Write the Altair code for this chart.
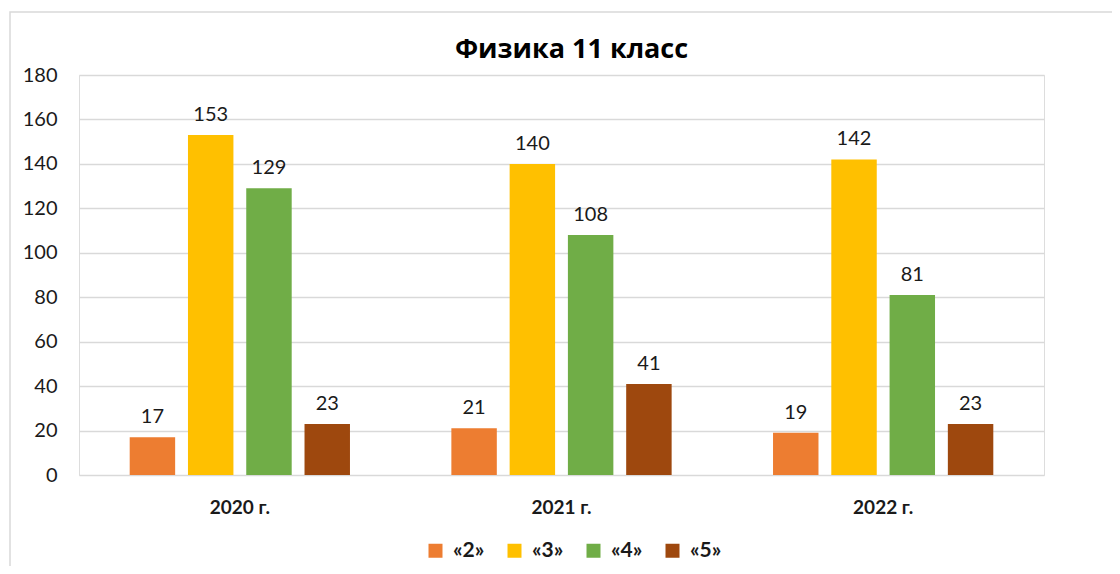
import altair as alt
import pandas as pd

years = ["2020 г.", "2021 г.", "2022 г."]
grades = ["«2»", "«3»", "«4»", "«5»"]
g2 = [17, 21, 19]
g3 = [153, 140, 142]
g4 = [129, 108, 81]
g5 = [23, 41, 23]
colors = ["#ED7D31", "#FFC000", "#70AD47", "#9E480E"]

rows = []
for gi, (g, vals) in enumerate(zip(grades, [g2, g3, g4, g5])):
    for y, v in zip(years, vals):
        rows.append({"year": y, "grade": g, "value": v})
df = pd.DataFrame(rows)

FONT = "Lato"

x = alt.X("year:N", sort=years, title=None,
          scale=alt.Scale(paddingInner=0, paddingOuter=0),
          axis=alt.Axis(labelAngle=0, labelFontWeight="bold", labelFontSize=19,
                        labelFont=FONT, labelColor="#1a1a1a", ticks=False, tickSize=0,
                        domain=False, labelPadding=38, labelBaseline="alphabetic"))
xo = alt.XOffset("grade:N", sort=grades,
                 scale=alt.Scale(paddingInner=0.22, paddingOuter=0.87))
y = alt.Y("value:Q", title=None,
          scale=alt.Scale(domain=[0, 180], nice=False),
          axis=alt.Axis(values=list(range(0, 181, 20)), grid=True, gridColor="#D9D9D9",
                        gridWidth=1.3, domain=False, ticks=False, tickSize=0,
                        labelPadding=22, labelFontSize=20, labelFont=FONT,
                        labelColor="#1a1a1a"))
color = alt.Color("grade:N", sort=grades,
                  scale=alt.Scale(domain=grades, range=colors),
                  legend=alt.Legend(title=None, orient="none", direction="horizontal",
                                    legendX=346, legendY=465, symbolType="square",
                                    symbolSize=196, symbolStrokeWidth=0, labelFontSize=21,
                                    labelFontWeight="bold", labelFont=FONT,
                                    labelColor="#1a1a1a", labelOffset=7, columnPadding=19,
                                    padding=0))

base = alt.Chart(df)
bars = base.mark_bar().encode(x=x, xOffset=xo, y=y, color=color)
labels = base.mark_text(dy=-14, baseline="alphabetic", align="center", fontSize=20,
                        font=FONT, color="#1a1a1a").encode(
    x=x, xOffset=xo, y=y, text=alt.Text("value:Q"))

border = alt.Chart(pd.DataFrame({"a": [0]})).mark_rect(
    fill=None, stroke="#D9D9D9", strokeWidth=1.5).encode(
    x=alt.value(-69), x2=alt.value(1300), y=alt.value(-63), y2=alt.value(700))

chart = alt.layer(border, bars, labels).properties(
    width=965, height=400,
    title=alt.TitleParams("Физика 11 класс", fontSize=27, font="Open Sans", fontWeight="bold",
                          color="#000000", anchor="middle", dx=10, baseline="alphabetic",
                          offset=0, dy=74),
    autosize=alt.AutoSizeParams(type="none"),
    padding={"left": 71, "top": 67, "right": 68, "bottom": 91},
).configure_view(stroke=None).configure(background="white")

chart.save("out.html", embed_options={"renderer": "svg", "actions": False})
